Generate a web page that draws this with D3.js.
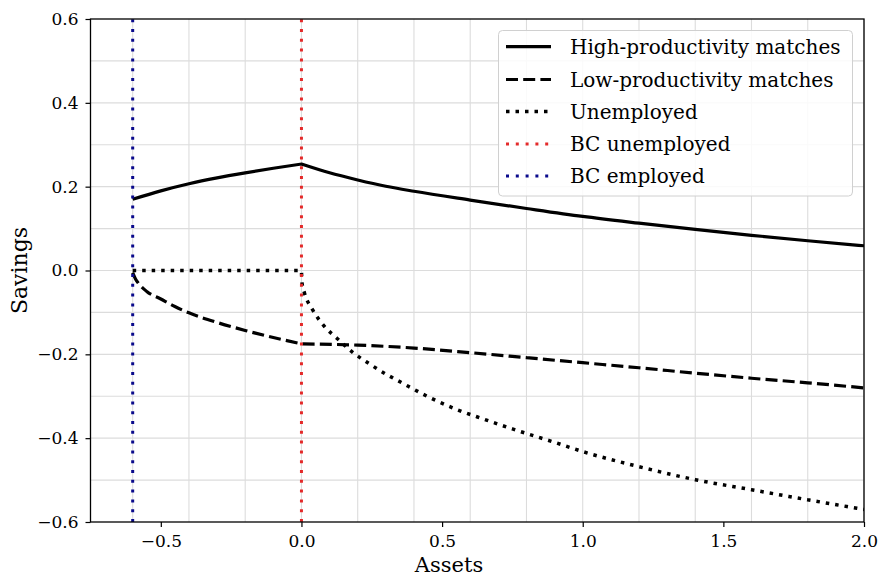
<!DOCTYPE html>
<html><head><meta charset="utf-8">
<script src="https://cdn.jsdelivr.net/npm/d3@7"></script>
<style>body{margin:0;background:#fff}svg{display:block}text{font-family:"DejaVu Serif",serif;fill:#000}</style>
</head><body>
<script>
const highX = [-0.6,-0.5,-0.4,-0.3,-0.2,-0.1,0.0,0.1,0.2,0.3,0.4,0.6,0.8,1.0,1.2,1.4,1.6,1.8,2.0];
const highY = [0.170,0.190,0.207,0.221,0.233,0.244,0.254,0.233,0.216,0.201,0.189,0.168,0.148,0.129,0.113,0.098,0.084,0.071,0.059];
const lowX = [-0.6,-0.59,-0.58,-0.55,-0.5,-0.45,-0.4,-0.3,-0.2,-0.1,0.0,0.2,0.4,0.6,0.8,1.0,1.2,1.4,1.6,1.8,2.0];
const lowY = [-0.005,-0.02,-0.03,-0.05,-0.068,-0.086,-0.101,-0.124,-0.143,-0.160,-0.175,-0.178,-0.185,-0.196,-0.208,-0.220,-0.232,-0.245,-0.257,-0.268,-0.280];
const unempX = [-0.6,-0.3,0.0,0.002,0.01,0.04,0.08,0.13,0.18,0.24,0.3,0.36,0.45,0.55,0.65,0.75,0.9,1.0,1.2,1.4,1.6,1.8,2.0];
const unempY = [0,0,0,-0.03,-0.052,-0.094,-0.132,-0.164,-0.194,-0.222,-0.247,-0.269,-0.301,-0.331,-0.355,-0.378,-0.41,-0.432,-0.468,-0.499,-0.523,-0.547,-0.570];
const bcUnemployed = 0.0;
const bcEmployed = -0.6;
const xTicks = [-0.5,0.0,0.5,1.0,1.5,2.0];
const yTicks = [-0.6,-0.4,-0.2,0.0,0.2,0.4,0.6];
const xGrid = [-0.6,-0.4,-0.2,0,0.2,0.4,0.6,0.8,1.0,1.2,1.4,1.6,1.8,2.0];
const yGrid = [-0.5,-0.4,-0.3,-0.2,-0.1,0,0.1,0.2,0.3,0.4,0.5];
const legendLabels = ["High-productivity matches","Low-productivity matches","Unemployed","BC unemployed","BC employed"];

const W=878,H=578, L=90.5,R=864,T=19,B=522;
const svg=d3.select("body").append("svg").attr("width",W).attr("height",H);
const x=d3.scaleLinear().domain([-0.75,2.0]).range([L,R]);
const y=d3.scaleLinear().domain([-0.6,0.6]).range([B,T]);
const fmt=d=>d3.format(".1f")(d).replace("-","\u2212");

const defs=svg.append("defs");
defs.append("clipPath").attr("id","clip").append("rect").attr("x",L).attr("y",T).attr("width",R-L).attr("height",B-T);

const g=svg.append("g");
g.selectAll(".gx").data(xGrid).join("line").attr("x1",d=>x(d)).attr("x2",d=>x(d)).attr("y1",T).attr("y2",B).attr("stroke","#dcdcdc").attr("stroke-width",1.1);
g.selectAll(".gy").data(yGrid).join("line").attr("y1",d=>y(d)).attr("y2",d=>y(d)).attr("x1",L).attr("x2",R).attr("stroke","#dcdcdc").attr("stroke-width",1.1);

// split a series at the kink x=0 so each side is smooth and the kink stays sharp
const line=d3.line().x(d=>x(d[0])).y(d=>y(d[1])).curve(d3.curveMonotoneX);
function kinked(xs,ys){
  const pts=xs.map((v,i)=>[v,ys[i]]);
  return line(pts.filter(p=>p[0]<=0))+line(pts.filter(p=>p[0]>=0)).replace(/^M/,"L");
}
const cg=g.append("g").attr("clip-path","url(#clip)");
const lw=3.2;
cg.append("path").attr("d",kinked(highX,highY)).attr("fill","none").attr("stroke","#000").attr("stroke-width",lw).attr("stroke-linejoin","miter");
cg.append("path").attr("d",kinked(lowX,lowY)).attr("fill","none").attr("stroke","#000").attr("stroke-width",lw).attr("stroke-dasharray","12,5.2");
cg.append("path").attr("d",kinked(unempX,unempY)).attr("fill","none").attr("stroke","#000").attr("stroke-width",3.5).attr("stroke-dasharray","3.5,6");
cg.append("line").attr("x1",x(bcUnemployed)).attr("x2",x(bcUnemployed)).attr("y1",B).attr("y2",T).attr("stroke","#e42a2a").attr("stroke-width",3).attr("stroke-dasharray","3,6.8");
cg.append("line").attr("x1",x(bcEmployed)).attr("x2",x(bcEmployed)).attr("y1",B).attr("y2",T).attr("stroke","#0a0a8c").attr("stroke-width",3).attr("stroke-dasharray","3,6.8");

// spines
svg.append("rect").attr("x",L).attr("y",T).attr("width",R-L).attr("height",B-T).attr("fill","none").attr("stroke","#000").attr("stroke-width",1.3);

// axes
const xa=svg.append("g").attr("transform",`translate(0,${B})`).call(d3.axisBottom(x).tickValues(xTicks).tickFormat(fmt).tickSize(5).tickPadding(8));
const ya=svg.append("g").attr("transform",`translate(${L},0)`).call(d3.axisLeft(y).tickValues(yTicks).tickFormat(fmt).tickSize(5).tickPadding(7));
[xa,ya].forEach(a=>{a.select(".domain").remove();a.selectAll("line").attr("stroke","#000").attr("stroke-width",1.2);a.selectAll("text").attr("font-family","DejaVu Serif").attr("font-size",17).attr("fill","#000");});

svg.append("text").attr("x",449).attr("y",572).attr("text-anchor","middle").attr("font-size",21).text("Assets");
svg.append("text").attr("transform",`translate(27,${(T+B)/2}) rotate(-90)`).attr("text-anchor","middle").attr("font-size",22).text("Savings");

// legend
const lg=svg.append("g");
lg.append("rect").attr("x",498.5).attr("y",30.5).attr("width",354).attr("height",165.5).attr("rx",4).attr("fill","rgba(255,255,255,0.85)").attr("stroke","#d0d0d0").attr("stroke-width",1);
const styles=[{c:"#000",d:null,w:lw},{c:"#000",d:"12,5.2",w:lw},{c:"#000",d:"3.5,6",w:3.5},{c:"#e42a2a",d:"3,6.8",w:3},{c:"#0a0a8c",d:"3,6.8",w:3}];
const rows=[46.7,79.5,111.5,144,176];
legendLabels.forEach((lab,i)=>{
  const s=styles[i];
  const ln=lg.append("line").attr("x1",506).attr("x2",551).attr("y1",rows[i]).attr("y2",rows[i]).attr("stroke",s.c).attr("stroke-width",s.w);
  if(s.d) ln.attr("stroke-dasharray",s.d);
  lg.append("text").attr("x",570).attr("y",rows[i]).attr("dy","0.35em").attr("font-size",20).text(lab);
});
</script>
</body></html>
